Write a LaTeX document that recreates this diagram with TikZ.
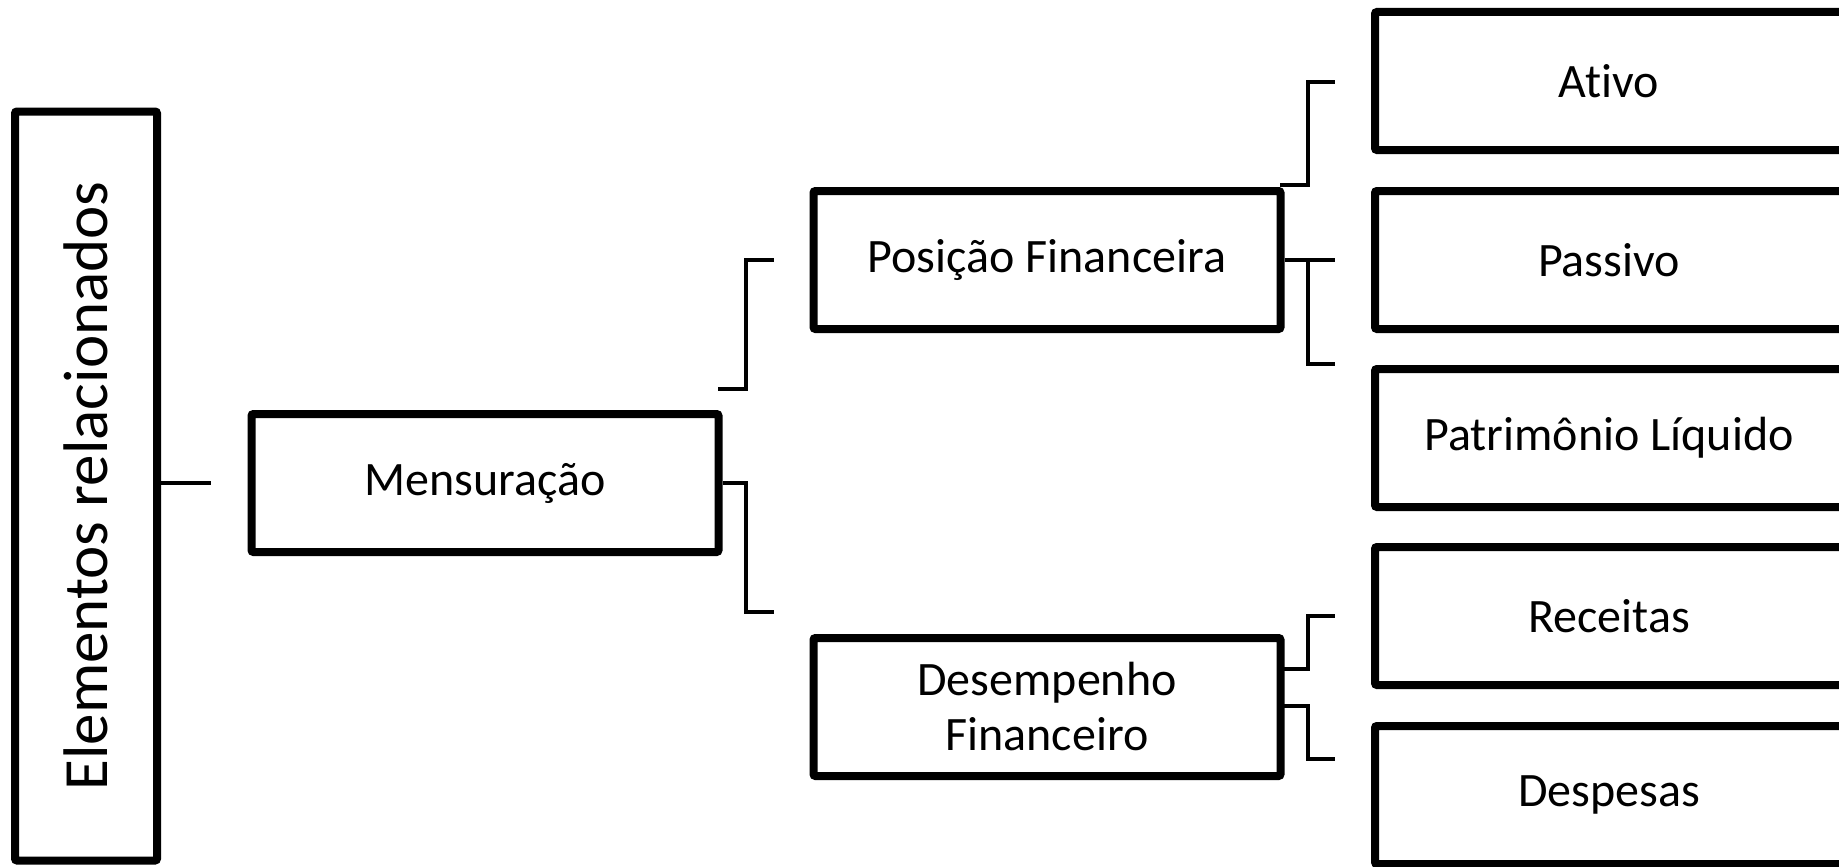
\documentclass[tikz,border=0pt]{standalone}
\usepackage{fontspec}
\setmainfont{Carlito}[Ligatures={NoCommon}]
\usetikzlibrary{shadows}
\begin{document}
\begin{tikzpicture}[x=1pt,y=-1pt,
  box/.style={draw=black, line width=8pt, rounded corners=2pt, fill=white,
    inner sep=0pt, minimum width=467pt, minimum height=138pt, align=center,
    font=\fontsize{48}{55}\selectfont,
    drop shadow={opacity=0.18, shadow xshift=2pt, shadow yshift=-3pt}},
  rbox/.style={box, minimum width=474pt},
  conn/.style={draw=black, line width=4.5pt, line join=miter}]
\useasboundingbox (0,0) rectangle (1839,867);
\fill[white] (0,0) rectangle (1839,867);

\node[box, minimum width=142pt, minimum height=749pt] (elem) at (86,486)
  {\rotatebox{90}{\fontsize{63}{70}\selectfont Elementos relacionados}};
\node[box] (mens) at (485,483) {Mensuração};
\node[box] (pos) at (1047,260) {Posição Financeira};
\node[box] (des) at (1047,707) {Desempenho\\Financeiro};
\node[rbox] (ativo) at (1612,81) {\hspace*{-6pt}Ativo};
\node[rbox] (passivo) at (1612,260) {\hspace*{-6pt}Passivo};
\node[rbox] (pl) at (1612,438) {\hspace*{-6pt}Patrimônio Líquido};
\node[rbox] (rec) at (1612,616) {\hspace*{-6pt}Receitas};
\node[rbox] (desp) at (1612,795) {\hspace*{-6pt}Despesas};

% coordinates
\coordinate (e1) at (211,483);
\coordinate (m0) at (718,389);
\coordinate (m1) at (774,260);
\coordinate (m2) at (774,612);
\coordinate (p0) at (1280,185);
\coordinate (p1) at (1335,82);
\coordinate (p2) at (1335,260);
\coordinate (p3) at (1335,364);
\coordinate (d0) at (1280,669);
\coordinate (d1) at (1335,616);
\coordinate (d0b) at (1280,706);
\coordinate (d2) at (1335,759);

\draw[conn] (elem.east |- e1) -- (e1);
\draw[conn] (m0) -- (746,389) -- (746,260) -- (m1);
\draw[conn] (mens.east) -- (746,483) -- (746,612) -- (m2);
\draw[conn] (p0) -- (1308,185) -- (1308,82) -- (p1);
\draw[conn] (pos.east) -- (p2);
\draw[conn] (1308,260) -- (1308,364) -- (p3);
\draw[conn] (d0) -- (1308,669) -- (1308,616) -- (d1);
\draw[conn] (d0b) -- (1308,706) -- (1308,759) -- (d2);
\end{tikzpicture}
\end{document}
